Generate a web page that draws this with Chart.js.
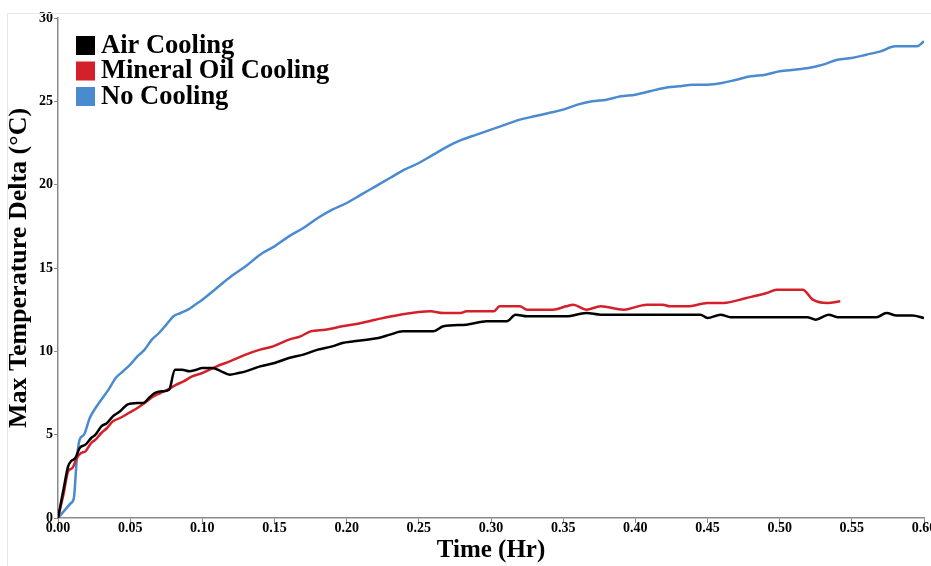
<!DOCTYPE html>
<html>
<head>
<meta charset="utf-8">
<script src="https://cdn.jsdelivr.net/npm/chart.js@4.4.1/dist/chart.umd.min.js"></script>
<style>
  html, body { margin: 0; padding: 0; background: #fff; }
  #wrap { position: relative; width: 931px; height: 566px; overflow: hidden; }
  #frame { position: absolute; left: 7px; top: 13px; right: 0; bottom: 0; border-top: 1px solid #e8e8e8; border-left: 1px solid #e8e8e8; }
</style>
</head>
<body>
<div id="wrap">
  <div id="frame"></div>
  <canvas id="myChart"></canvas>
</div>
<script>
const seriesNames = ['Air Cooling', 'Mineral Oil Cooling', 'No Cooling'];
const seriesColors = ['#000000', '#d4202a', '#4a8bd0'];

// Air Cooling
const airX = [0, 0.004, 0.007, 0.009, 0.012, 0.015, 0.019, 0.023, 0.026, 0.030, 0.034, 0.038, 0.043, 0.048, 0.055, 0.059,
  0.063, 0.067, 0.072, 0.077, 0.081, 0.086, 0.091, 0.096, 0.100, 0.107, 0.113, 0.119, 0.125, 0.130, 0.140, 0.150,
  0.160, 0.170, 0.180, 0.190, 0.197, 0.205, 0.214, 0.222, 0.230, 0.239, 0.260, 0.267, 0.283, 0.297, 0.311, 0.317,
  0.325, 0.352, 0.366, 0.376, 0.445, 0.450, 0.459, 0.466, 0.519, 0.525, 0.534, 0.540, 0.567, 0.574, 0.581, 0.592, 0.600];
const airY = [0, 1.8, 3.1, 3.4, 3.6, 4.2, 4.4, 4.8, 5.0, 5.5, 5.7, 6.1, 6.4, 6.8, 6.9, 6.9,
  7.2, 7.5, 7.6, 7.7, 8.9, 8.9, 8.8, 8.9, 9.0, 9.0, 8.8, 8.6, 8.7, 8.8, 9.1, 9.3,
  9.6, 9.8, 10.1, 10.3, 10.5, 10.6, 10.7, 10.8, 11.0, 11.2, 11.2, 11.5, 11.6, 11.8, 11.8, 12.2,
  12.1, 12.1, 12.3, 12.2, 12.2, 12.0, 12.2, 12.05, 12.05, 11.9, 12.2, 12.05, 12.05, 12.3, 12.15, 12.15, 12.0];

// Mineral Oil Cooling
const oilX = [0, 0.004, 0.007, 0.010, 0.013, 0.016, 0.019, 0.023, 0.026, 0.030, 0.034, 0.038, 0.043, 0.049, 0.055, 0.060,
  0.066, 0.071, 0.076, 0.082, 0.087, 0.093, 0.100, 0.110, 0.119, 0.130, 0.140, 0.149, 0.160, 0.168, 0.175, 0.185,
  0.197, 0.210, 0.220, 0.237, 0.258, 0.267, 0.279, 0.283, 0.302, 0.306, 0.320, 0.325, 0.343, 0.352, 0.357, 0.366,
  0.376, 0.392, 0.408, 0.419, 0.424, 0.436, 0.450, 0.461, 0.477, 0.491, 0.498, 0.516, 0.523, 0.533, 0.542];
const oilY = [0, 1.5, 2.8, 3.0, 3.6, 3.9, 4.0, 4.5, 4.7, 5.1, 5.4, 5.8, 6.0, 6.3, 6.6, 6.9,
  7.3, 7.5, 7.7, 8.0, 8.2, 8.5, 8.7, 9.1, 9.4, 9.8, 10.1, 10.3, 10.7, 10.9, 11.2, 11.3,
  11.5, 11.7, 11.9, 12.2, 12.4, 12.3, 12.3, 12.4, 12.4, 12.7, 12.7, 12.5, 12.5, 12.7, 12.8, 12.5,
  12.7, 12.5, 12.8, 12.8, 12.7, 12.7, 12.9, 12.9, 13.2, 13.5, 13.7, 13.7, 13.1, 12.9, 13.0];

// No Cooling
const noneX = [0, 0.005, 0.009, 0.011, 0.013, 0.015, 0.018, 0.022, 0.026, 0.030, 0.035, 0.040, 0.045, 0.050, 0.055, 0.060,
  0.065, 0.070, 0.075, 0.080, 0.085, 0.090, 0.095, 0.100, 0.110, 0.120, 0.130, 0.140, 0.150, 0.160, 0.170, 0.180,
  0.190, 0.200, 0.210, 0.220, 0.230, 0.240, 0.250, 0.260, 0.270, 0.280, 0.290, 0.300, 0.310, 0.320, 0.330, 0.340,
  0.350, 0.360, 0.370, 0.380, 0.390, 0.400, 0.410, 0.420, 0.430, 0.440, 0.450, 0.460, 0.470, 0.480, 0.490, 0.500,
  0.510, 0.520, 0.530, 0.540, 0.550, 0.560, 0.570, 0.580, 0.590, 0.595, 0.600];
const noneY = [0, 0.5, 0.9, 1.2, 3.5, 4.7, 5.0, 6.0, 6.6, 7.1, 7.7, 8.4, 8.8, 9.2, 9.7, 10.1,
  10.7, 11.1, 11.6, 12.1, 12.3, 12.5, 12.8, 13.1, 13.8, 14.5, 15.1, 15.8, 16.3, 16.9, 17.4, 18.0,
  18.5, 18.9, 19.4, 19.9, 20.4, 20.9, 21.3, 21.8, 22.3, 22.7, 23.0, 23.3, 23.6, 23.9, 24.1, 24.3,
  24.5, 24.8, 25.0, 25.1, 25.3, 25.4, 25.6, 25.8, 25.9, 26.0, 26.0, 26.1, 26.3, 26.5, 26.6, 26.8,
  26.9, 27.0, 27.2, 27.5, 27.6, 27.8, 28.0, 28.3, 28.3, 28.3, 28.6];

const xTicks = [0, 0.05, 0.10, 0.15, 0.20, 0.25, 0.30, 0.35, 0.40, 0.45, 0.50, 0.55, 0.60];
const yTicks = [0, 5, 10, 15, 20, 25, 30];

const toPoints = (xs, ys) => xs.map((x, i) => ({ x: x, y: ys[i] }));
const allX = [airX, oilX, noneX];
const allY = [airY, oilY, noneY];

const serif = "'Liberation Serif', 'Times New Roman', serif";

// legend drawn inside the plot, top left, like the original figure
const insideLegend = {
    id: 'insideLegend',
    afterDraw(chart) {
        const c = chart.ctx;
        const left = chart.chartArea.left + 18;
        const top = chart.chartArea.top + 18;
        c.save();
        c.font = 'bold 26.5px ' + serif;
        c.textBaseline = 'middle';
        c.textAlign = 'left';
        chart.data.datasets.forEach((ds, i) => {
            const y = top + i * 25.5;
            c.fillStyle = ds.borderColor;
            c.fillRect(left, y, 19, 19);
            c.fillStyle = '#000';
            c.fillText(ds.label, left + 25, y + 10);
        });
        c.restore();
    }
};

document.addEventListener('DOMContentLoaded', () => {
    const ctx = document.getElementById('myChart');
    const axisGray = '#8a8a8a';

    new Chart(ctx, {
        type: 'scatter',
        data: {
            datasets: seriesNames.map((name, i) => ({
                label: name,
                data: toPoints(allX[i], allY[i]),
                showLine: true,
                borderColor: seriesColors[i],
                backgroundColor: seriesColors[i],
                borderWidth: 2.5,
                pointRadius: 0,
                cubicInterpolationMode: 'monotone'
            }))
        },
        options: {
            responsive: true,
            maintainAspectRatio: false,
            animation: false,
            layout: { padding: { top: 18, right: 7, left: 0, bottom: 0 } },
            plugins: {
                tooltip: { enabled: false },
                legend: { display: false }
            },
            scales: {
                x: {
                    type: 'linear',
                    min: 0,
                    max: 0.6,
                    afterBuildTicks: s => { s.ticks = xTicks.map(v => ({ value: v })); },
                    afterFit: s => { s.height = 48; s.paddingRight = 0; s.paddingLeft = 0; },
                    border: { color: axisGray, width: 1.5 },
                    grid: { display: true, drawOnChartArea: false, tickLength: 5, color: axisGray },
                    ticks: {
                        padding: -3,
                        color: '#000',
                        font: { family: serif, size: 14, weight: 'bold' },
                        callback: v => v.toFixed(2)
                    },
                    title: {
                        display: true,
                        text: 'Time (Hr)',
                        color: '#000',
                        padding: { top: 0, bottom: 0 },
                        font: { family: serif, size: 25, weight: 'bold' }
                    }
                },
                y: {
                    min: 0,
                    max: 30,
                    afterBuildTicks: s => { s.ticks = yTicks.map(v => ({ value: v })); },
                    afterFit: s => { s.width = 58; s.paddingTop = 0; s.paddingBottom = 0; },
                    border: { color: axisGray, width: 1.5 },
                    grid: { display: true, drawOnChartArea: false, tickLength: 4, color: axisGray },
                    ticks: {
                        padding: 1,
                        color: '#000',
                        font: { family: serif, size: 14, weight: 'bold' }
                    },
                    title: {
                        display: true,
                        text: 'Max Temperature Delta (°C)',
                        color: '#000',
                        padding: { top: 4, bottom: 0 },
                        font: { family: serif, size: 26, weight: 'bold' }
                    }
                }
            }
        },
        plugins: [insideLegend]
    });
});
</script>
</body>
</html>
